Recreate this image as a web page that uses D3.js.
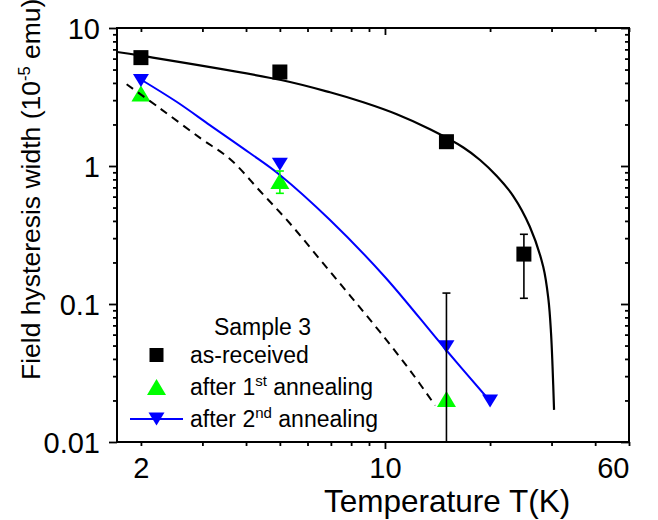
<!DOCTYPE html>
<html>
<head>
<meta charset="utf-8">
<script src="https://cdn.jsdelivr.net/npm/d3@7"></script>
<style>
  body { margin: 0; background: #fff; }
  svg { display: block; }
  text { font-family: Arial, "Liberation Sans", sans-serif; fill: #000; }
</style>
</head>
<body>
<div id="chart"></div>
<script>
// ---------------- data ----------------
const legendTitle = "Sample 3";
const seriesNames = ["as-received", "after 1", "after 2"];
const seriesSup = ["", "st", "nd"];
const seriesTail = ["", " annealing", " annealing"];

// measured points: temperature (K) and hysteresis width (1e-5 emu)
const asReceivedT = [2, 5, 15, 25];
const asReceivedW = [6.1, 4.8, 1.5, 0.23];
const anneal1T = [2, 5, 15];
const anneal1W = [3.35, 0.78, 0.0205];
const anneal2T = [2, 5, 15, 20];
const anneal2W = [4.17, 1.03, 0.049, 0.0198];

// error bars: temperature, low, high, colour index
const errT = [25, 5, 15];
const errLo = [0.11, 0.634, 0.01];
const errHi = [0.32, 0.92, 0.12];
const errSeries = [0, 1, 0];

// fitted curves (traced points)
const fitAsReceivedT = [1.708, 2, 5.04, 6.96, 8.67, 10.81, 13.46, 16.77, 18.72, 20.9, 23.3, 26.0, 28.4, 29.4, 29.9, 30.2, 30.5];
const fitAsReceivedW = [6.70, 6.30, 4.20, 3.42, 2.894, 2.37, 1.845, 1.362, 1.105, 0.846, 0.606, 0.363, 0.186, 0.107, 0.0614, 0.0351, 0.0171];
const fitAnneal2T = [2.01, 2.53, 3.15, 4.10, 5.0, 6.96, 10.0, 14.7, 20.1];
const fitAnneal2W = [4.20, 2.92, 1.98, 1.242, 0.861, 0.406, 0.157, 0.049, 0.0195];
const fitDashedT = [1.82, 2.267, 2.953, 3.598, 4.386, 5.346, 6.516, 7.942, 9.676, 11.80, 13.92];
const fitDashedW = [3.91, 2.618, 1.598, 1.124, 0.659, 0.383, 0.210, 0.1152, 0.0627, 0.0330, 0.0184];

// axes
const xDomain = [1.708, 50];
const yDomain = [0.01, 10];
const xTickValues = [2, 10, 50];
const xTickLabels = ["2", "10", "60"];   // the reference labels the right end "60"
const xMinorTicks = [2, 3, 4, 5, 6, 7, 8, 9, 20, 30, 40, 50];
const xMajorTicks = [10];
const yTickValues = [0.01, 0.1, 1, 10];
const yTickLabels = ["0.01", "0.1", "1", "10"];
const yMinorTicks = [2,3,4,5,6,7,8,9].flatMap(m => [m * 0.01, m * 0.1, m]);
const xTitle = "Temperature T(K)";

// ---------------- drawing ----------------
const W = 658, H = 520;
const L = 117, R = 629, T = 28, B = 442;
const svg = d3.select("#chart").append("svg").attr("width", W).attr("height", H);

const x = d3.scaleLog().domain(xDomain).range([L, R]);
const y = d3.scaleLog().domain(yDomain).range([B, T]);

const colors = ["#000000", "#00ff00", "#0000ff"];

svg.append("clipPath").attr("id", "clip").append("rect")
  .attr("x", L).attr("y", T).attr("width", R - L).attr("height", B - T);
const plot = svg.append("g").attr("clip-path", "url(#clip)");

// markers
const sq = 15;
plot.selectAll(".sq").data(asReceivedT.map((t, i) => [t, asReceivedW[i]])).join("rect")
  .attr("x", d => x(d[0]) - sq / 2).attr("y", d => y(d[1]) - sq / 2)
  .attr("width", sq).attr("height", sq).attr("fill", colors[0]);

function upTri(w, h) { return `M0,${-h/2}L${w/2},${h/2}L${-w/2},${h/2}Z`; }
function downTri(w, h) { return `M0,${h/2}L${w/2},${-h/2}L${-w/2},${-h/2}Z`; }

plot.selectAll(".up").data(anneal1T.map((t, i) => [t, anneal1W[i]])).join("path")
  .attr("d", upTri(19, 16))
  .attr("transform", d => `translate(${x(d[0])},${y(d[1])})`)
  .attr("fill", colors[1]);
plot.selectAll(".dn").data(anneal2T.map((t, i) => [t, anneal2W[i]])).join("path")
  .attr("d", downTri(16, 13))
  .attr("transform", d => `translate(${x(d[0])},${y(d[1])})`)
  .attr("fill", colors[2]);

// curves
const line = d3.line().x(d => x(d[0])).y(d => y(d[1])).curve(d3.curveCatmullRom.alpha(0.5));
plot.append("path").datum(fitAsReceivedT.map((t, i) => [t, fitAsReceivedW[i]]))
  .attr("d", line).attr("fill", "none").attr("stroke", "#000").attr("stroke-width", 2.2);
plot.append("path").datum(fitAnneal2T.map((t, i) => [t, fitAnneal2W[i]]))
  .attr("d", line).attr("fill", "none").attr("stroke", colors[2]).attr("stroke-width", 2);
plot.append("path").datum(fitDashedT.map((t, i) => [t, fitDashedW[i]]))
  .attr("d", line).attr("fill", "none").attr("stroke", "#000").attr("stroke-width", 2)
  .attr("stroke-dasharray", "8,6");

// error bars
const cap = 4;
errT.forEach((t, i) => {
  const g = plot.append("g").attr("stroke", colors[errSeries[i]]).attr("stroke-width", 1.6);
  const cx = x(t);
  g.append("line").attr("x1", cx).attr("x2", cx).attr("y1", y(errLo[i])).attr("y2", y(errHi[i]));
  g.append("line").attr("x1", cx - cap).attr("x2", cx + cap).attr("y1", y(errHi[i])).attr("y2", y(errHi[i]));
  if (errLo[i] > yDomain[0])
    g.append("line").attr("x1", cx - cap).attr("x2", cx + cap).attr("y1", y(errLo[i])).attr("y2", y(errLo[i]));
});

// axes
function styleAxis(g) {
  g.select(".domain").remove();
  g.selectAll("line").attr("stroke", "#000").attr("stroke-width", 1.8);
}
// bottom (outward)
svg.append("g").attr("transform", `translate(0,${B})`)
  .call(d3.axisBottom(x).tickValues(xMinorTicks).tickSize(4).tickFormat("")).call(styleAxis);
svg.append("g").attr("transform", `translate(0,${B})`)
  .call(d3.axisBottom(x).tickValues(xMajorTicks).tickSize(7).tickFormat("")).call(styleAxis);
const xl = svg.append("g").attr("transform", `translate(0,${B})`)
  .call(d3.axisBottom(x).tickValues(xTickValues).tickSize(0).tickFormat((d, i) => xTickLabels[i]));
xl.select(".domain").remove();
xl.selectAll("text").attr("y", 35.5).attr("dy", 0).attr("font-size", 29)
  .attr("font-family", "Arial, 'Liberation Sans', sans-serif")
  .attr("text-anchor", (d, i) => i === xTickValues.length - 1 ? "end" : "middle");
// top (inward)
svg.append("g").attr("transform", `translate(0,${T})`)
  .call(d3.axisBottom(x).tickValues(xMinorTicks).tickSize(4).tickFormat("")).call(styleAxis);
svg.append("g").attr("transform", `translate(0,${T})`)
  .call(d3.axisBottom(x).tickValues(xMajorTicks).tickSize(7).tickFormat("")).call(styleAxis);
// left (outward)
svg.append("g").attr("transform", `translate(${L},0)`)
  .call(d3.axisLeft(y).tickValues(yMinorTicks).tickSize(4).tickFormat("")).call(styleAxis);
const yl = svg.append("g").attr("transform", `translate(${L},0)`)
  .call(d3.axisLeft(y).tickValues(yTickValues).tickSize(8).tickPadding(9)
    .tickFormat((d, i) => yTickLabels[i]));
styleAxis(yl);
yl.selectAll("text").attr("font-size", 29).attr("dy", "0.35em")
  .attr("font-family", "Arial, 'Liberation Sans', sans-serif");
// right (inward)
svg.append("g").attr("transform", `translate(${R},0)`)
  .call(d3.axisLeft(y).tickValues(yMinorTicks).tickSize(4).tickFormat("")).call(styleAxis);
svg.append("g").attr("transform", `translate(${R},0)`)
  .call(d3.axisLeft(y).tickValues(yTickValues).tickSize(8).tickFormat("")).call(styleAxis);

// frame
svg.append("rect").attr("x", L).attr("y", T).attr("width", R - L).attr("height", B - T)
  .attr("fill", "none").attr("stroke", "#000").attr("stroke-width", 2);

// axis titles
svg.append("text").attr("x", 324).attr("y", 512).attr("font-size", 31.5).text(xTitle);
const yt = svg.append("text").attr("transform", "translate(40,380) rotate(-90)")
  .attr("font-size", 26.5);
yt.append("tspan").text("Field hysteresis width (10");
yt.append("tspan").attr("font-size", 16.5).attr("dy", -10).text("-5");
yt.append("tspan").attr("dy", 10).text(" emu)");

// legend
const leg = svg.append("g");
leg.append("text").attr("x", 262.5).attr("y", 335).attr("text-anchor", "middle")
  .attr("font-size", 23).text(legendTitle);
const rowY = [355, 387, 419];
const mx = 156.5, tx = 190;
leg.append("rect").attr("x", mx - 7).attr("y", rowY[0] - 7).attr("width", 14).attr("height", 14)
  .attr("fill", colors[0]);
leg.append("path").attr("d", upTri(19, 16)).attr("transform", `translate(${mx},${rowY[1]})`)
  .attr("fill", colors[1]);
leg.append("line").attr("x1", 130).attr("x2", 183).attr("y1", rowY[2]).attr("y2", rowY[2])
  .attr("stroke", colors[2]).attr("stroke-width", 2);
leg.append("path").attr("d", downTri(16, 13)).attr("transform", `translate(${mx},${rowY[2]})`)
  .attr("fill", colors[2]);
seriesNames.forEach((n, i) => {
  const t = leg.append("text").attr("x", tx).attr("y", rowY[i] + 8).attr("font-size", 23);
  t.append("tspan").text(n);
  if (seriesSup[i]) {
    t.append("tspan").attr("font-size", 15).attr("dy", -9).text(seriesSup[i]);
    t.append("tspan").attr("dy", 9).text(seriesTail[i]);
  }
});
</script>
</body>
</html>
